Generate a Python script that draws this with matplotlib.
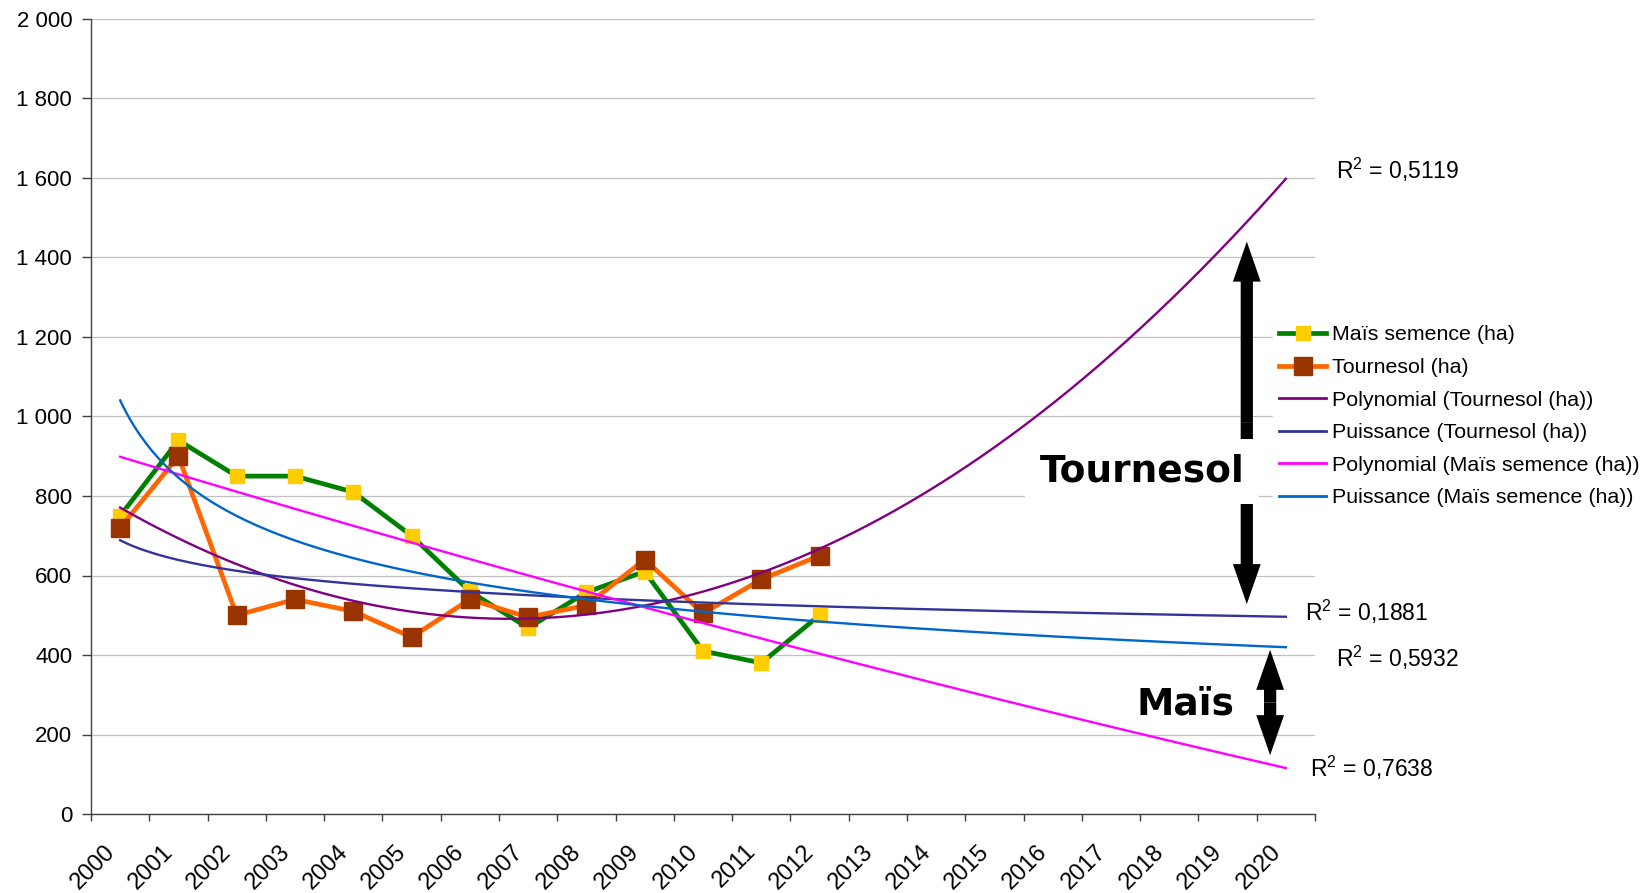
import numpy as np
import matplotlib
matplotlib.use("Agg")
import matplotlib.pyplot as plt
from matplotlib.lines import Line2D

plt.rcParams['font.family'] = ['Liberation Sans', 'DejaVu Sans']
plt.rcParams['mathtext.fontset'] = 'custom'
plt.rcParams['mathtext.rm'] = 'Liberation Sans'

# ---- data ----
years = list(range(2000, 2021))
data_years = list(range(2000, 2013))
mais = [750, 940, 850, 850, 810, 700, 560, 468, 558, 610, 410, 380, 500]
tournesol = [720, 900, 500, 540, 510, 445, 540, 495, 525, 640, 505, 590, 650]
y_ticks = [0, 200, 400, 600, 800, 1000, 1200, 1400, 1600, 1800, 2000]
r2_values = ["0,5119", "0,1881", "0,5932", "0,7638"]
series_names = ["Maïs semence (ha)", "Tournesol (ha)",
                "Polynomial (Tournesol (ha))", "Puissance (Tournesol (ha))",
                "Polynomial (Maïs semence (ha))", "Puissance (Maïs semence (ha))"]

# ---- figure ----
W, H = 1643, 893
fig = plt.figure(figsize=(W / 100, H / 100), dpi=100)
L, R, T, B = 91, 1315, 19, 814
ax = fig.add_axes([L / W, 1 - B / H, (R - L) / W, (B - T) / H])

cat = np.arange(1, len(years) + 1)
xd = np.arange(1, len(data_years) + 1)
M = np.array(mais, float)
Tn = np.array(tournesol, float)

# trend lines (Excel-like fits, forecast to 2020)
xs = np.linspace(1, len(years), 400)
polyT = np.polyval(np.polyfit(xd, Tn, 2), xs)
bT, aT = np.polyfit(np.log(xd), np.log(Tn), 1)
powT = np.exp(aT) * xs ** bT
polyM = np.polyval(np.polyfit(xd, M, 2), xs)
bM, aM = np.polyfit(np.log(xd), np.log(M), 1)
powM = np.exp(aM) * xs ** bM

ax.plot(xd, M, color='#008000', lw=3.4, marker='s', ms=10, mfc='#FFCC00',
        mec='#FFCC00', zorder=3)
ax.plot(xd, Tn, color='#FF6600', lw=3.4, marker='s', ms=13, mfc='#993300',
        mec='#993300', zorder=4)
ax.plot(xs, polyT, color='#800080', lw=1.7, zorder=5)
ax.plot(xs, powT, color='#333399', lw=1.7, zorder=5)
ax.plot(xs, polyM, color='#FF00FF', lw=1.7, zorder=5)
ax.plot(xs, powM, color='#0066CC', lw=1.7, zorder=5)

# axes styling
ax.set_xlim(0.5, len(years) + 0.5)
ax.set_ylim(0, 2000)
ax.set_yticks(y_ticks)
ax.set_yticklabels([f"{v:,}".replace(',', ' ') for v in y_ticks], fontsize=16)
ax.yaxis.grid(True, color='#C0C0C0', lw=0.9)
ax.set_axisbelow(True)
for s in ['top', 'right']:
    ax.spines[s].set_visible(False)
for s in ['left', 'bottom']:
    ax.spines[s].set_color('#404040')
    ax.spines[s].set_linewidth(1.0)
ax.tick_params(axis='y', length=6.5, width=1, color='#404040', pad=7)

label_shift = 0.28
ax.set_xticks(cat - label_shift)
ax.set_xticklabels([str(y) for y in years], rotation=45, ha='right', va='top',
                   rotation_mode='anchor', fontsize=17)
ax.tick_params(axis='x', which='major', length=0, pad=19)
ax.set_xticks(np.arange(0.5, len(years) + 1.0, 1.0), minor=True)
ax.tick_params(axis='x', which='minor', length=5, width=1, color='#404040')

# legend
handles = [
    Line2D([], [], color='#008000', lw=3.4, marker='s', ms=10, mfc='#FFCC00', mec='#FFCC00'),
    Line2D([], [], color='#FF6600', lw=3.4, marker='s', ms=13, mfc='#993300', mec='#993300'),
    Line2D([], [], color='#800080', lw=2),
    Line2D([], [], color='#333399', lw=2),
    Line2D([], [], color='#FF00FF', lw=2),
    Line2D([], [], color='#0066CC', lw=2),
]
leg = fig.legend(handles, series_names, loc='upper left',
                 bbox_to_anchor=(1273 / W, 1 - 319 / H), fontsize=15.4,
                 frameon=True, facecolor='white', edgecolor='white', framealpha=1,
                 fancybox=False, handlelength=2.2, handletextpad=0.25,
                 labelspacing=0.635, borderpad=0.3, borderaxespad=0)

# R² labels
r2_pos = [(21.86, 1620), (21.32, 508), (21.86, 392), (21.41, 116)]
for (px, py), val in zip(r2_pos, r2_values):
    ax.text(px, py, r"$\mathregular{R^2}$ = " + val, fontsize=16.5, ha='left',
            va='center', clip_on=False)

# arrows
def double_arrow(x, y0, y1):
    mid = (y0 + y1) / 2
    for tip in (y0, y1):
        ax.annotate('', xy=(x, tip), xytext=(x, mid), annotation_clip=False,
                    arrowprops=dict(arrowstyle='simple,head_length=0.72,head_width=0.5,tail_width=0.22',
                                    mutation_scale=40, fc='black', ec='none',
                                    shrinkA=0, shrinkB=0), zorder=6)

double_arrow(20.33, 528, 1440)
double_arrow(20.73, 148, 413)

ax.text(18.53, 862, "Tournesol", fontsize=27, fontweight='bold', family='DejaVu Sans',
        ha='center', va='center', zorder=8,
        bbox=dict(boxstyle='square,pad=0.38', fc='white', ec='none'))
ax.text(19.27, 276, "Maïs", fontsize=27, fontweight='bold', family='DejaVu Sans',
        ha='center', va='center', zorder=8)

fig.savefig('out.png', dpi=100)
